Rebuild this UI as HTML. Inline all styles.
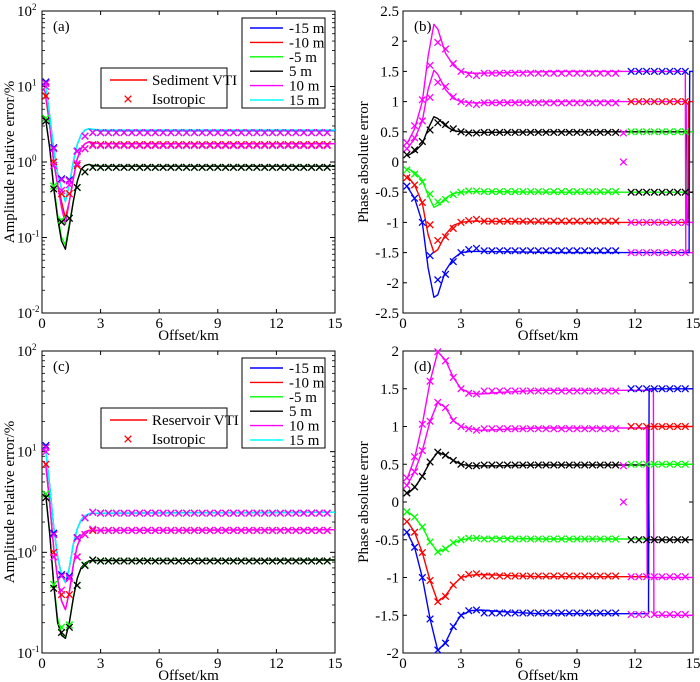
<!DOCTYPE html>
<html><head><meta charset="utf-8">
<style>
html,body{margin:0;padding:0;background:#fff;}
svg{display:block;font-family:"Liberation Serif",serif;}
</style></head>
<body>
<svg id="chart" width="700" height="682" viewBox="0 0 700 682" xmlns="http://www.w3.org/2000/svg"></svg>
<script>
// ---------- data ----------
const seriesNames = ["-15 m","-10 m","-5 m","5 m","10 m","15 m"];
const seriesColors = ["#0000ff","#ff0000","#00ff00","#000000","#ff00ff","#00ffff"];
const ampLineX = [0.1,0.2,0.4,0.6,0.8,1.0,1.2,1.4,1.6,1.8,2.0,2.2,2.4,2.6,3,15];
// panel (a) lines
const aLineBlue = [12,10,4,1.5,0.7,0.45,0.3,0.5,1.0,1.7,2.3,2.65,2.75,2.7,2.6,2.6];
const aLineRed = [8,7,3,1.0,0.5,0.3,0.18,0.3,0.6,1.1,1.5,1.75,1.85,1.8,1.75,1.75];
const aLineGreen = [4,3.5,1.5,0.5,0.2,0.1,0.08,0.15,0.3,0.55,0.8,0.9,0.93,0.9,0.88,0.88];
const aLineBlack = [4,3.5,1.5,0.45,0.18,0.09,0.07,0.14,0.3,0.55,0.8,0.9,0.93,0.9,0.88,0.88];
const aLineMagenta = [9,8,3,1.0,0.5,0.25,0.15,0.3,0.6,1.1,1.5,1.75,1.85,1.8,1.75,1.75];
const aLineCyan = [12,10,4,1.5,0.7,0.45,0.3,0.5,1.0,1.7,2.3,2.65,2.75,2.72,2.65,2.65];
// panel (a) markers (values at 0.2,0.6,...) then plateau
const aMarkBlue = [11.5,1.55,0.6,0.58,1.4,2.2], aPlatBlue = 2.45;
const aMarkRed = [7.5,1.0,0.38,0.38,0.9,1.5], aPlatRed = 1.7;
const aMarkGreen = [3.8,0.48,0.17,0.18,0.46,0.74], aPlatGreen = 0.85;
const aMarkBlack = [3.5,0.44,0.16,0.18,0.46,0.74], aPlatBlack = 0.85;
const aMarkMagenta = [10,0.9,0.42,0.5,0.95,1.5], aPlatMagenta = 1.65;
const aMarkCyan = [11,1.5,0.58,0.56,1.38,2.2], aPlatCyan = 2.45;
// panel (c) lines
const cLineBlue = [12,10,4.5,1.8,0.9,0.6,0.5,0.7,1.2,1.7,2.1,2.3,2.42,2.45,2.45,2.5];
const cLineRed = [8,7.2,3,1.1,0.55,0.33,0.27,0.4,0.75,1.15,1.45,1.6,1.65,1.65,1.65,1.68];
const cLineGreen = [4,3.6,1.5,0.5,0.22,0.16,0.14,0.2,0.35,0.55,0.7,0.78,0.82,0.83,0.83,0.84];
const cLineBlack = [4,3.6,1.5,0.48,0.2,0.15,0.14,0.2,0.35,0.55,0.7,0.78,0.82,0.83,0.83,0.84];
const cLineMagenta = [8,7.2,3,1.1,0.55,0.33,0.27,0.4,0.75,1.15,1.45,1.6,1.65,1.65,1.65,1.68];
const cLineCyan = [12,10,4.5,1.8,0.9,0.6,0.5,0.7,1.2,1.7,2.1,2.3,2.42,2.45,2.45,2.5];
const cMarkBlue = [11.5,1.55,0.6,0.58,1.4,2.2,2.5], cPlatBlue = 2.45;
const cMarkRed = [7.5,1.0,0.38,0.38,0.9,1.5,1.65], cPlatRed = 1.65;
const cMarkGreen = [3.8,0.48,0.18,0.19,0.47,0.75,0.84], cPlatGreen = 0.82;
const cMarkBlack = [3.5,0.44,0.16,0.18,0.47,0.74,0.84], cPlatBlack = 0.82;
const cMarkMagenta = [10,0.9,0.42,0.55,0.9,1.5,1.7], cPlatMagenta = 1.65;
const cMarkCyan = [11,1.5,0.58,0.56,1.38,2.2,2.5], cPlatCyan = 2.45;
// panel (b) phase lines
const bLineX = [0.2,0.6,1.0,1.3,1.6,1.8,2.2,2.6,3.0,3.5,4,8];
const bLineTop = [0.3,0.55,1.0,1.75,2.28,2.2,1.8,1.6,1.5,1.47,1.47,1.5];
const bLineSecond = [0.22,0.38,0.68,1.2,1.52,1.45,1.2,1.05,1.0,0.98,0.98,1.0];
const bLineBlack = [0.1,0.17,0.3,0.55,0.75,0.72,0.6,0.52,0.5,0.49,0.49,0.5];
const bLineGreen = [-0.1,-0.17,-0.3,-0.55,-0.75,-0.72,-0.6,-0.52,-0.5,-0.49,-0.49,-0.5];
const bLineRed = [-0.22,-0.38,-0.68,-1.2,-1.5,-1.45,-1.2,-1.05,-1.0,-0.98,-0.98,-1.0];
const bLineBlue = [-0.4,-0.6,-1.0,-1.75,-2.24,-2.2,-1.8,-1.6,-1.5,-1.48,-1.48,-1.5];
const bSwapX = [14.6,14.65,14.7,14.7,14.75,14.8];
const swapTo = [-1.5,-1.0,-0.5,0.5,1.0,1.5];
// panel (b) markers: 0.2..3.8, then mid value to 11.0, then late value from 11.8
const bMarkTop = [0.32,0.6,1.03,1.6,1.98,1.87,1.63,1.5,1.45,1.43], bMidTop = 1.47, bLateTop = -1.5;
const bMarkSecond = [0.22,0.4,0.68,1.07,1.32,1.25,1.08,1.0,0.97,0.95], bMidSecond = 0.98, bLateSecond = -1.0;
const bMarkBlack = [0.12,0.2,0.34,0.53,0.65,0.62,0.55,0.5,0.48,0.48], bMidBlack = 0.49, bLateBlack = -0.5;
const bMarkGreen = [-0.13,-0.2,-0.33,-0.53,-0.66,-0.62,-0.54,-0.5,-0.48,-0.48], bMidGreen = -0.49, bLateGreen = 0.5;
const bMarkRed = [-0.26,-0.38,-0.67,-1.04,-1.3,-1.24,-1.1,-1.0,-0.97,-0.95], bMidRed = -0.98, bLateRed = 1.0;
const bMarkBlue = [-0.4,-0.6,-1.0,-1.55,-1.95,-1.86,-1.65,-1.5,-1.45,-1.43], bMidBlue = -1.47, bLateBlue = 1.5;
// panel (d)
const dLineX = [0.2,0.6,1.0,1.4,1.8,2.2,2.6,3.0,3.5,4,5,7];
const dLineTop = [0.3,0.58,1.03,1.6,1.99,1.88,1.65,1.5,1.44,1.43,1.45,1.48];
const dLineSecond = [0.22,0.4,0.68,1.07,1.32,1.25,1.08,1.0,0.97,0.95,0.96,0.98];
const dLineBlack = [0.1,0.19,0.34,0.53,0.66,0.62,0.55,0.5,0.48,0.48,0.48,0.49];
const dLineGreen = [-0.12,-0.2,-0.33,-0.53,-0.66,-0.62,-0.54,-0.5,-0.48,-0.48,-0.48,-0.49];
const dLineRed = [-0.25,-0.4,-0.67,-1.04,-1.32,-1.24,-1.1,-1.0,-0.97,-0.96,-0.97,-0.99];
const dLineBlue = [-0.4,-0.6,-1.0,-1.55,-1.97,-1.86,-1.65,-1.5,-1.44,-1.43,-1.45,-1.48];
const dSwapX = [12.95,12.6,12.7,12.65,12.65,12.7];
const dMarkTop = [0.32,0.6,1.03,1.6,1.99,1.87,1.65,1.5,1.44,1.43], dMidTop = 1.47, dLateTop = -1.49;
const dMarkSecond = [0.22,0.4,0.68,1.07,1.32,1.25,1.08,1.0,0.97,0.95], dMidSecond = 0.97, dLateSecond = -0.99;
const dMarkBlack = [0.12,0.2,0.34,0.53,0.66,0.62,0.55,0.5,0.48,0.48], dMidBlack = 0.49, dLateBlack = -0.5;
const dMarkGreen = [-0.13,-0.2,-0.33,-0.53,-0.66,-0.62,-0.54,-0.5,-0.48,-0.48], dMidGreen = -0.49, dLateGreen = 0.5;
const dMarkRed = [-0.26,-0.4,-0.67,-1.04,-1.32,-1.25,-1.1,-1.0,-0.96,-0.95], dMidRed = -0.98, dLateRed = 1.0;
const dMarkBlue = [-0.4,-0.6,-1.0,-1.55,-1.96,-1.87,-1.65,-1.5,-1.44,-1.43], dMidBlue = -1.47, dLateBlue = 1.5;
const xTicks = [0,3,6,9,12,15];
const bTicks = [-2.5,-2,-1.5,-1,-0.5,0,0.5,1,1.5,2,2.5];
const dTicks = [-2,-1.5,-1,-0.5,0,0.5,1,1.5,2];
const markerStep = 0.4, markerStart = 0.2, markerCount = 37;

// ---------- drawing ----------
const svg = document.getElementById('chart');
const NS = 'http://www.w3.org/2000/svg';
function mk(tag, attrs, parent){const e=document.createElementNS(NS,tag);for(const k in attrs)e.setAttribute(k,attrs[k]);(parent||svg).appendChild(e);return e;}
const FS = 15;

function makePanel(p){
  const g = mk('g',{});
  
  
  p.g = g;
  p.sx = v => p.L + v/15*(p.R-p.L);
  if(p.log){ p.sy = v => p.B - (Math.log10(v)-p.lmin)/(p.lmax-p.lmin)*(p.B-p.T); }
  else { p.sy = v => p.B - (v-p.ymin)/(p.ymax-p.ymin)*(p.B-p.T); }
  return p;
}
function axes(p, title, yTitle){
  const g = p.g;
  const cp = mk('clipPath',{id:'clip'+p.id}, g);
  mk('rect',{x:p.L,y:p.T,width:p.R-p.L,height:p.B-p.T}, cp);
  const ax = mk('g',{}, g);
  
  
  xTicks.forEach(t=>{
    const x = p.sx(t);
    mk('line',{x1:x,x2:x,y1:p.B,y2:p.B-4,stroke:'#000','stroke-width':1},ax);
    mk('line',{x1:x,x2:x,y1:p.T,y2:p.T+4,stroke:'#000','stroke-width':1},ax);
    const tx = mk('text',{x:x,y:p.B+15,'text-anchor':'middle','font-size':FS},ax);
    tx.textContent = t;
    
    
  });
  if(p.log){
    for(let e=p.lmin;e<=p.lmax;e++){
      const y = p.B - (e-p.lmin)/(p.lmax-p.lmin)*(p.B-p.T);
      mk('line',{x1:p.L,x2:p.L+5,y1:y,y2:y,stroke:'#000','stroke-width':1},ax);
      mk('line',{x1:p.R,x2:p.R-5,y1:y,y2:y,stroke:'#000','stroke-width':1},ax);
      const tx = mk('text',{x:p.L-10,y:y+5,'text-anchor':'end','font-size':FS},ax);
      tx.textContent = '10';
      
      
      const sp = mk('text',{x:p.L-10,y:y-1,'font-size':9},ax); sp.textContent = String(e);
      if(e<p.lmax){
        for(let m=2;m<=9;m++){
          const yy = p.sy(m*Math.pow(10,e));
          mk('line',{x1:p.L,x2:p.L+3,y1:yy,y2:yy,stroke:'#000','stroke-width':0.8},ax);
          mk('line',{x1:p.R,x2:p.R-3,y1:yy,y2:yy,stroke:'#000','stroke-width':0.8},ax);
        }
      }
    }
  } else {
    p.ticks.forEach(t=>{
      const y = p.sy(t);
      mk('line',{x1:p.L,x2:p.L+4,y1:y,y2:y,stroke:'#000','stroke-width':1},ax);
      mk('line',{x1:p.R,x2:p.R-4,y1:y,y2:y,stroke:'#000','stroke-width':1},ax);
      const tx = mk('text',{x:p.L-4,y:y+5,'text-anchor':'end','font-size':FS},ax);
      tx.textContent = t;
      
      
    });
  }
  mk('rect',{x:p.L,y:p.T,width:p.R-p.L,height:p.B-p.T,fill:'none',stroke:'#000','stroke-width':1},ax);
  const xt = mk('text',{x:(p.L+p.R)/2,y:p.B+27,'text-anchor':'middle','font-size':FS},ax);
  xt.textContent = 'Offset/km';
  
  
  const cy = (p.T+p.B)/2;
  const yt = mk('text',{x:p.yTitleX,y:cy,'text-anchor':'middle','font-size':FS,transform:`rotate(-90 ${p.yTitleX} ${cy})`},ax);
  yt.textContent = yTitle;
  
  
  const lb = mk('text',{x:p.L+11,y:p.T+20,'font-size':FS},ax);
  lb.textContent = title;
  
  
}
function line(p, xs, ys, color, name){
  const pts = xs.map((x,i)=>p.sx(x).toFixed(1)+','+p.sy(ys[i]).toFixed(1)).join(' ');
  const pl = mk('polyline',{points:pts,fill:'none',stroke:color,'stroke-width':1.4,'clip-path':`url(#clip${p.id})`,'stroke-linejoin':'round'},p.g);
  
  
}
function cross(p, x, y, color){
  const cx = p.sx(x), cy = p.sy(y), r = 3.3;
  const pa = mk('path',{d:`M${cx-r},${cy-r}L${cx+r},${cy+r}M${cx-r},${cy+r}L${cx+r},${cy-r}`,stroke:color,'stroke-width':1.3,fill:'none'},p.g);
  
  
}
function ampMarkers(p, early, plat, color){
  for(let i=0;i<markerCount;i++){
    const x = markerStart + i*markerStep;
    const v = i<early.length ? early[i] : plat;
    cross(p, x, v, color);
  }
}
function legendBoxes(p, top, modelLabel){
  const g = mk('g',{}, p.g);
  
  
  mk('rect',{x:242,y:top,width:83,height:90,fill:'#fff',stroke:'#000','stroke-width':1},g);
  seriesNames.forEach((n,i)=>{
    const y = top+10+i*14.4;
    const e = mk('g',{},g);
    
    
    mk('line',{x1:250,x2:283,y1:y,y2:y,stroke:seriesColors[i],'stroke-width':1.4},e);
    const t = mk('text',{x:289,y:y+5,'font-size':FS},e); t.textContent = n;
  });
  const g2 = mk('g',{}, p.g);
  
  
  const t2 = top+50;
  mk('rect',{x:101,y:t2,width:126,height:40,fill:'#fff',stroke:'#000','stroke-width':1},g2);
  mk('line',{x1:110,x2:147,y1:t2+12,y2:t2+12,stroke:'#ff0000','stroke-width':1.4},g2);
  const a = mk('text',{x:152,y:t2+17,'font-size':FS},g2); a.textContent = modelLabel;
  const r=3.3, cx=128, cy=t2+31;
  mk('path',{d:`M${cx-r},${cy-r}L${cx+r},${cy+r}M${cx-r},${cy+r}L${cx+r},${cy-r}`,stroke:'#ff0000','stroke-width':1.3},g2);
  const b = mk('text',{x:152,y:t2+36,'font-size':FS},g2); b.textContent = 'Isotropic';
}
function phasePanelDraw(p, lx, lines, swapX, swapVals, marks){
  const cols = ['#ff00ff','#ff00ff','#000000','#00ff00','#ff0000','#0000ff'];
  lines.forEach((ys,i)=>{
    const last = ys[ys.length-1];
    const xs = lx.concat([swapX[i], swapX[i]+0.03, 15]);
    const vs = ys.concat([last, swapVals[i], swapVals[i]]);
    line(p, xs, vs, cols[i], 'phase-line');
  });
  marks.forEach((m,i)=>{
    for(let k=0;k<markerCount;k++){
      const x = markerStart + k*markerStep;
      if(k===28) continue;
      if(k<m[0].length) cross(p, x, m[0][k], cols[i]);
      else if(k<28) cross(p, x, m[1], cols[i]);
      else cross(p, x, m[2], cols[i]);
    }
  });
  cross(p, 11.4, 0, '#ff00ff');
  cross(p, 11.4, 0.48, '#ff00ff');
}

// ---- panel a ----
const pa = makePanel({id:'a',L:42,R:335,T:11,B:313,log:true,lmin:-2,lmax:2,yTitleX:14});
axes(pa,'(a)','Amplitude relative error/%');
[aLineBlue,aLineRed,aLineGreen,aLineBlack,aLineMagenta,aLineCyan].forEach((s,i)=>line(pa,ampLineX,s,seriesColors[i],'line-'+seriesNames[i].replace(' ','')));
[[aMarkBlue,aPlatBlue,'#0000ff'],[aMarkRed,aPlatRed,'#ff0000'],[aMarkGreen,aPlatGreen,'#00ff00'],[aMarkBlack,aPlatBlack,'#000000'],[aMarkCyan,aPlatCyan,'#ff00ff'],[aMarkMagenta,aPlatMagenta,'#ff00ff']].forEach(m=>ampMarkers(pa,m[0],m[1],m[2]));
legendBoxes(pa,18,'Sediment VTI');

// ---- panel c ----
const pc = makePanel({id:'c',L:42,R:335,T:351,B:653,log:true,lmin:-1,lmax:2,yTitleX:14});
axes(pc,'(c)','Amplitude relative error/%');
[cLineBlue,cLineRed,cLineGreen,cLineBlack,cLineMagenta,cLineCyan].forEach((s,i)=>line(pc,ampLineX,s,seriesColors[i],'line-'+seriesNames[i].replace(' ','')));
[[cMarkBlue,cPlatBlue,'#0000ff'],[cMarkRed,cPlatRed,'#ff0000'],[cMarkGreen,cPlatGreen,'#00ff00'],[cMarkBlack,cPlatBlack,'#000000'],[cMarkCyan,cPlatCyan,'#ff00ff'],[cMarkMagenta,cPlatMagenta,'#ff00ff']].forEach(m=>ampMarkers(pc,m[0],m[1],m[2]));
legendBoxes(pc,358,'Reservoir VTI');

// ---- panel b ----
const pb = makePanel({id:'b',L:403,R:693,T:11,B:313,log:false,ymin:-2.5,ymax:2.5,ticks:bTicks,yTitleX:368});
axes(pb,'(b)','Phase absolute error');
phasePanelDraw(pb, bLineX, [bLineTop,bLineSecond,bLineBlack,bLineGreen,bLineRed,bLineBlue], bSwapX, swapTo,
  [[bMarkTop,bMidTop,bLateTop],[bMarkSecond,bMidSecond,bLateSecond],[bMarkBlack,bMidBlack,bLateBlack],[bMarkGreen,bMidGreen,bLateGreen],[bMarkRed,bMidRed,bLateRed],[bMarkBlue,bMidBlue,bLateBlue]]);

// ---- panel d ----
const pd = makePanel({id:'d',L:403,R:693,T:351,B:653,log:false,ymin:-2,ymax:2,ticks:dTicks,yTitleX:368});
axes(pd,'(d)','Phase absolute error');
phasePanelDraw(pd, dLineX, [dLineTop,dLineSecond,dLineBlack,dLineGreen,dLineRed,dLineBlue], dSwapX, swapTo,
  [[dMarkTop,dMidTop,dLateTop],[dMarkSecond,dMidSecond,dLateSecond],[dMarkBlack,dMidBlack,dLateBlack],[dMarkGreen,dMidGreen,dLateGreen],[dMarkRed,dMidRed,dLateRed],[dMarkBlue,dMidBlue,dLateBlue]]);
</script>
</body></html>
